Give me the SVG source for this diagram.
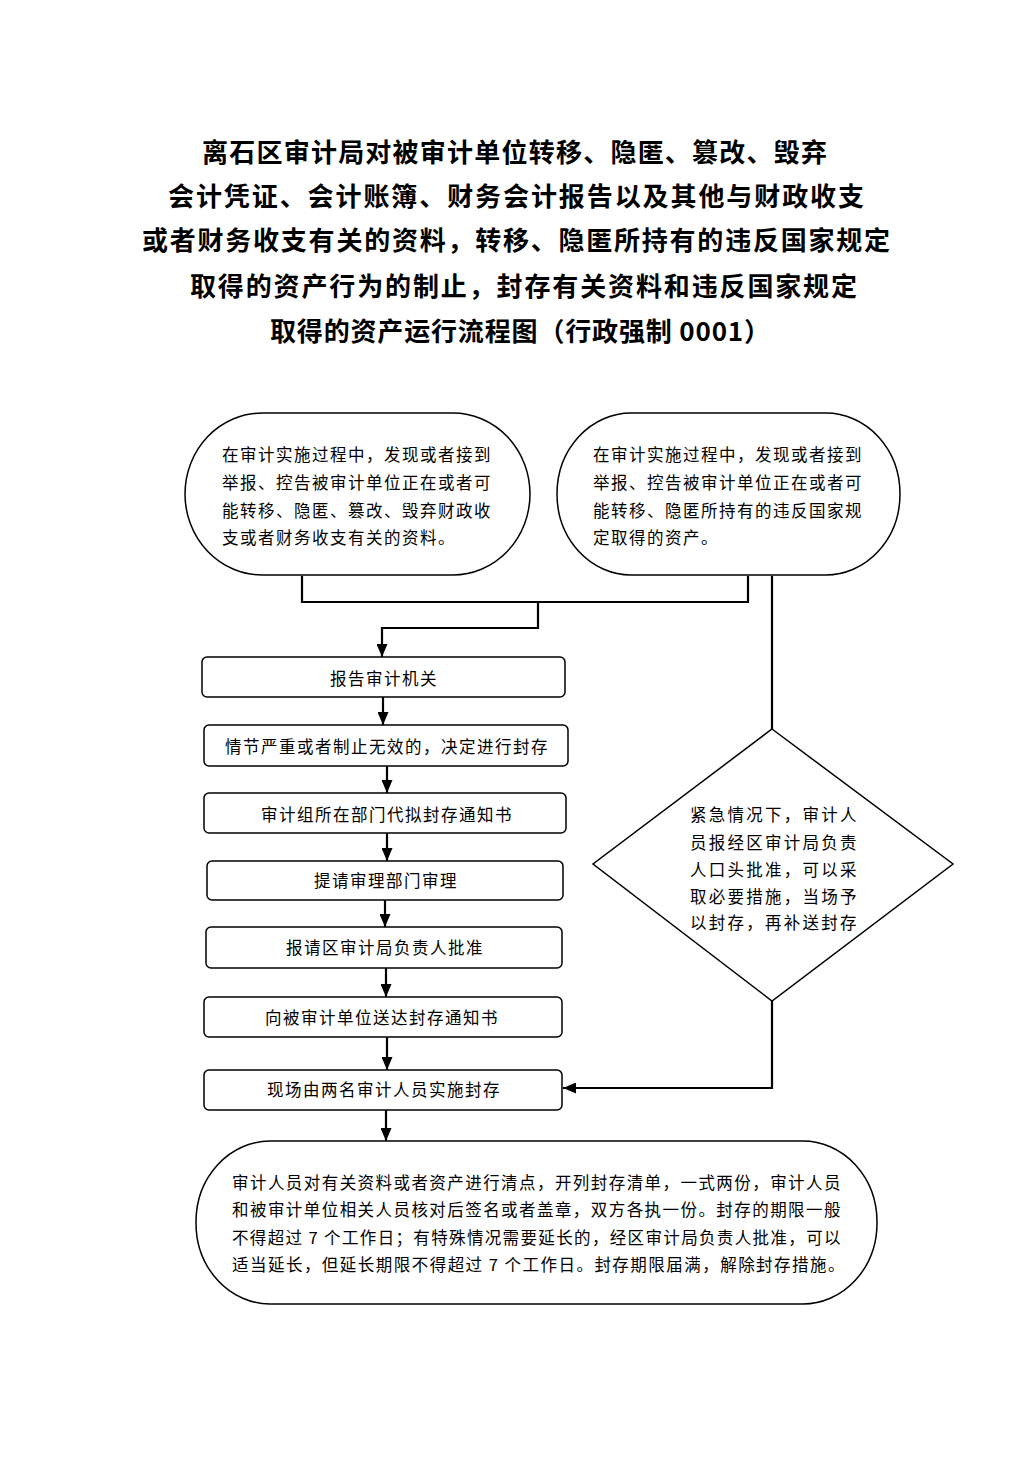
<svg xmlns="http://www.w3.org/2000/svg" width="1033" height="1460" viewBox="0 0 1033 1460">
<style>
.title{font-family:"Noto Sans CJK SC","Liberation Sans",sans-serif;font-size:26px;font-weight:bold;fill:#000}
.t{font-family:"Noto Sans CJK SC","Liberation Sans",sans-serif;font-size:16.5px;fill:#000;letter-spacing:1.5px}
.c{text-anchor:middle}
.shape{fill:#fff;stroke:#000;stroke-width:1.5}
.conn{fill:none;stroke:#000;stroke-width:2.2}
</style>
<defs>
<marker id="ah" viewBox="0 0 13 11" refX="13" refY="5.5" markerWidth="13" markerHeight="11" markerUnits="userSpaceOnUse" orient="auto">
<path d="M0,0 L13,5.5 L0,11 z" fill="#000"/>
</marker>
</defs>
<rect width="1033" height="1460" fill="#fff"/>

<g id="title">
<text class="title" x="202" y="162" textLength="625" lengthAdjust="spacing">离石区审计局对被审计单位转移、隐匿、篡改、毁弃</text>
<text class="title" x="168" y="206" textLength="696" lengthAdjust="spacing">会计凭证、会计账簿、财务会计报告以及其他与财政收支</text>
<text class="title" x="142" y="250" textLength="748" lengthAdjust="spacing">或者财务收支有关的资料，转移、隐匿所持有的违反国家规定</text>
<text class="title" x="190" y="296" textLength="667" lengthAdjust="spacing">取得的资产行为的制止，封存有关资料和违反国家规定</text>
<text class="title" x="270" y="341" textLength="500" lengthAdjust="spacing">取得的资产运行流程图（行政强制 0001）</text>
</g>

<g id="connectors">
<path class="conn" d="M302,576 V602 H748 V576"/>
<path class="conn" d="M538,602 V628 H382 V657" marker-end="url(#ah)"/>
<path class="conn" d="M383,697 V725" marker-end="url(#ah)"/>
<path class="conn" d="M387,766 V793" marker-end="url(#ah)"/>
<path class="conn" d="M387,833 V861" marker-end="url(#ah)"/>
<path class="conn" d="M385,900 V927" marker-end="url(#ah)"/>
<path class="conn" d="M386,968 V997" marker-end="url(#ah)"/>
<path class="conn" d="M387,1037 V1070" marker-end="url(#ah)"/>
<path class="conn" d="M386,1110 V1141" marker-end="url(#ah)"/>
<path class="conn" d="M772,576 V729"/>
<path class="conn" d="M772,1001 V1088 H563" marker-end="url(#ah)"/>
</g>

<g id="start-left">
<rect class="shape" x="185" y="413" width="345" height="162" rx="77" ry="81"/>
<text class="t" x="222" y="461">在审计实施过程中，发现或者接到</text>
<text class="t" x="222" y="489">举报、控告被审计单位正在或者可</text>
<text class="t" x="222" y="517">能转移、隐匿、篡改、毁弃财政收</text>
<text class="t" x="222" y="544">支或者财务收支有关的资料。</text>
</g>

<g id="start-right">
<rect class="shape" x="557" y="413" width="343" height="162" rx="74" ry="81"/>
<text class="t" x="593" y="461">在审计实施过程中，发现或者接到</text>
<text class="t" x="593" y="489">举报、控告被审计单位正在或者可</text>
<text class="t" x="593" y="517">能转移、隐匿所持有的违反国家规</text>
<text class="t" x="593" y="544">定取得的资产。</text>
</g>

<g id="box1">
<rect class="shape" x="202" y="657" width="363" height="40" rx="5"/>
<text class="t c" x="384" y="685">报告审计机关</text>
</g>
<g id="box2">
<rect class="shape" x="204" y="725" width="364" height="41" rx="5"/>
<text class="t c" x="387" y="753">情节严重或者制止无效的，决定进行封存</text>
</g>
<g id="box3">
<rect class="shape" x="204" y="793" width="362" height="40" rx="5"/>
<text class="t c" x="387" y="821">审计组所在部门代拟封存通知书</text>
</g>
<g id="box4">
<rect class="shape" x="207" y="861" width="356" height="39" rx="5"/>
<text class="t c" x="386" y="887">提请审理部门审理</text>
</g>
<g id="box5">
<rect class="shape" x="206" y="927" width="356" height="41" rx="5"/>
<text class="t c" x="385" y="954">报请区审计局负责人批准</text>
</g>
<g id="box6">
<rect class="shape" x="204" y="997" width="358" height="40" rx="5"/>
<text class="t c" x="382" y="1024">向被审计单位送达封存通知书</text>
</g>
<g id="box7">
<rect class="shape" x="204" y="1070" width="358" height="40" rx="5"/>
<text class="t c" x="384" y="1096">现场由两名审计人员实施封存</text>
</g>

<g id="diamond">
<polygon class="shape" points="772,729 953,864 772,1001 593,864"/>
<text class="t" x="690" y="821" textLength="168" lengthAdjust="spacing">紧急情况下，审计人</text>
<text class="t" x="690" y="849" textLength="168" lengthAdjust="spacing">员报经区审计局负责</text>
<text class="t" x="690" y="876" textLength="168" lengthAdjust="spacing">人口头批准，可以采</text>
<text class="t" x="690" y="903" textLength="168" lengthAdjust="spacing">取必要措施，当场予</text>
<text class="t" x="690" y="929" textLength="168" lengthAdjust="spacing">以封存，再补送封存</text>
</g>

<g id="end">
<rect class="shape" x="196" y="1141" width="681" height="163" rx="74" ry="81"/>
<text class="t" x="232" y="1189" textLength="610" lengthAdjust="spacing">审计人员对有关资料或者资产进行清点，开列封存清单，一式两份，审计人员</text>
<text class="t" x="232" y="1216" textLength="610" lengthAdjust="spacing">和被审计单位相关人员核对后签名或者盖章，双方各执一份。封存的期限一般</text>
<text class="t" x="232" y="1244" textLength="610" lengthAdjust="spacing">不得超过 7 个工作日；有特殊情况需要延长的，经区审计局负责人批准，可以</text>
<text class="t" x="232" y="1271" textLength="614" lengthAdjust="spacing">适当延长，但延长期限不得超过 7 个工作日。封存期限届满，解除封存措施。</text>
</g>
</svg>
